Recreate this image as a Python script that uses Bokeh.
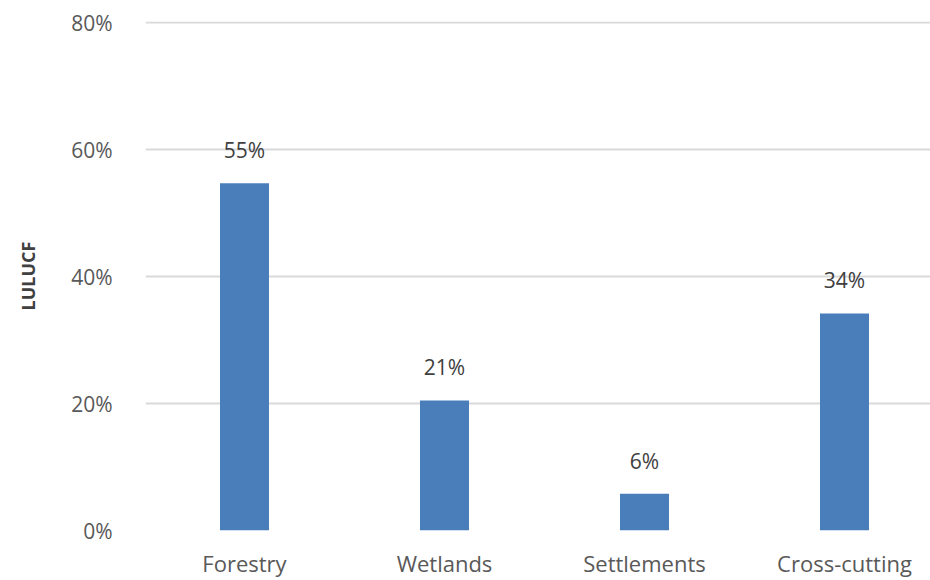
from bokeh.plotting import figure
from bokeh.models import ColumnDataSource, FixedTicker, Range1d, LabelSet
from bokeh.core.properties import value
from bokeh.embed import file_html
from bokeh.resources import INLINE

categories = ["Forestry", "Wetlands", "Settlements", "Cross-cutting"]
values = [0.547, 0.205, 0.058, 0.342]
value_labels = ["55%", "21%", "6%", "34%"]
y_ticks = [0.0, 0.2, 0.4, 0.6, 0.8]
y_tick_labels = ["0%", "20%", "40%", "60%", "80%"]
y_title = "LULUCF"

FONT = "Open Sans"
xs = list(range(len(categories)))
src = ColumnDataSource(dict(x=xs, top=values, lab=value_labels))

p = figure(width=930, height=580, output_backend="svg", toolbar_location=None,
           x_range=Range1d(-0.495, 3.43), y_range=Range1d(0, 0.802),
           min_border_left=145, min_border_right=0, min_border_top=21,
           min_border_bottom=48)
p.outline_line_color = None
p.background_fill_color = "white"
p.border_fill_color = "white"

p.vbar(x="x", top="top", bottom=0, width=0.245, source=src,
       fill_color="#4a7ebb", line_color=None)

labels = LabelSet(x="x", y="top", text="lab", source=src, text_align="center",
                  text_baseline="middle", y_offset=33, text_font=value(FONT),
                  text_font_size="21px", text_color="#404040")
p.add_layout(labels)

p.yaxis.ticker = FixedTicker(ticks=y_ticks)
p.yaxis.major_label_overrides = {t: l for t, l in zip(y_ticks, y_tick_labels)}
p.xaxis.ticker = FixedTicker(ticks=xs)
p.xaxis.major_label_overrides = {i: c for i, c in enumerate(categories)}

for ax in (p.xaxis, p.yaxis):
    ax.axis_line_color = None
    ax.major_tick_line_color = None
    ax.minor_tick_line_color = None
    ax.major_label_text_font = FONT
    ax.major_label_text_color = "#595959"

p.yaxis.major_label_text_font_size = "21px"
p.xaxis.major_label_text_font_size = "22px"
p.yaxis.major_label_standoff = 27
p.xaxis.major_label_standoff = 11
p.yaxis.axis_label = y_title
p.yaxis.axis_label_text_font = FONT
p.yaxis.axis_label_text_font_style = "bold"
p.yaxis.axis_label_text_font_size = "18px"
p.yaxis.axis_label_text_color = "#404040"
p.yaxis.axis_label_standoff = 28

p.xgrid.grid_line_color = None
p.ygrid.grid_line_color = "#d9d9d9"
p.ygrid.grid_line_width = 2

open("out.html", "w").write(file_html(p, INLINE))
